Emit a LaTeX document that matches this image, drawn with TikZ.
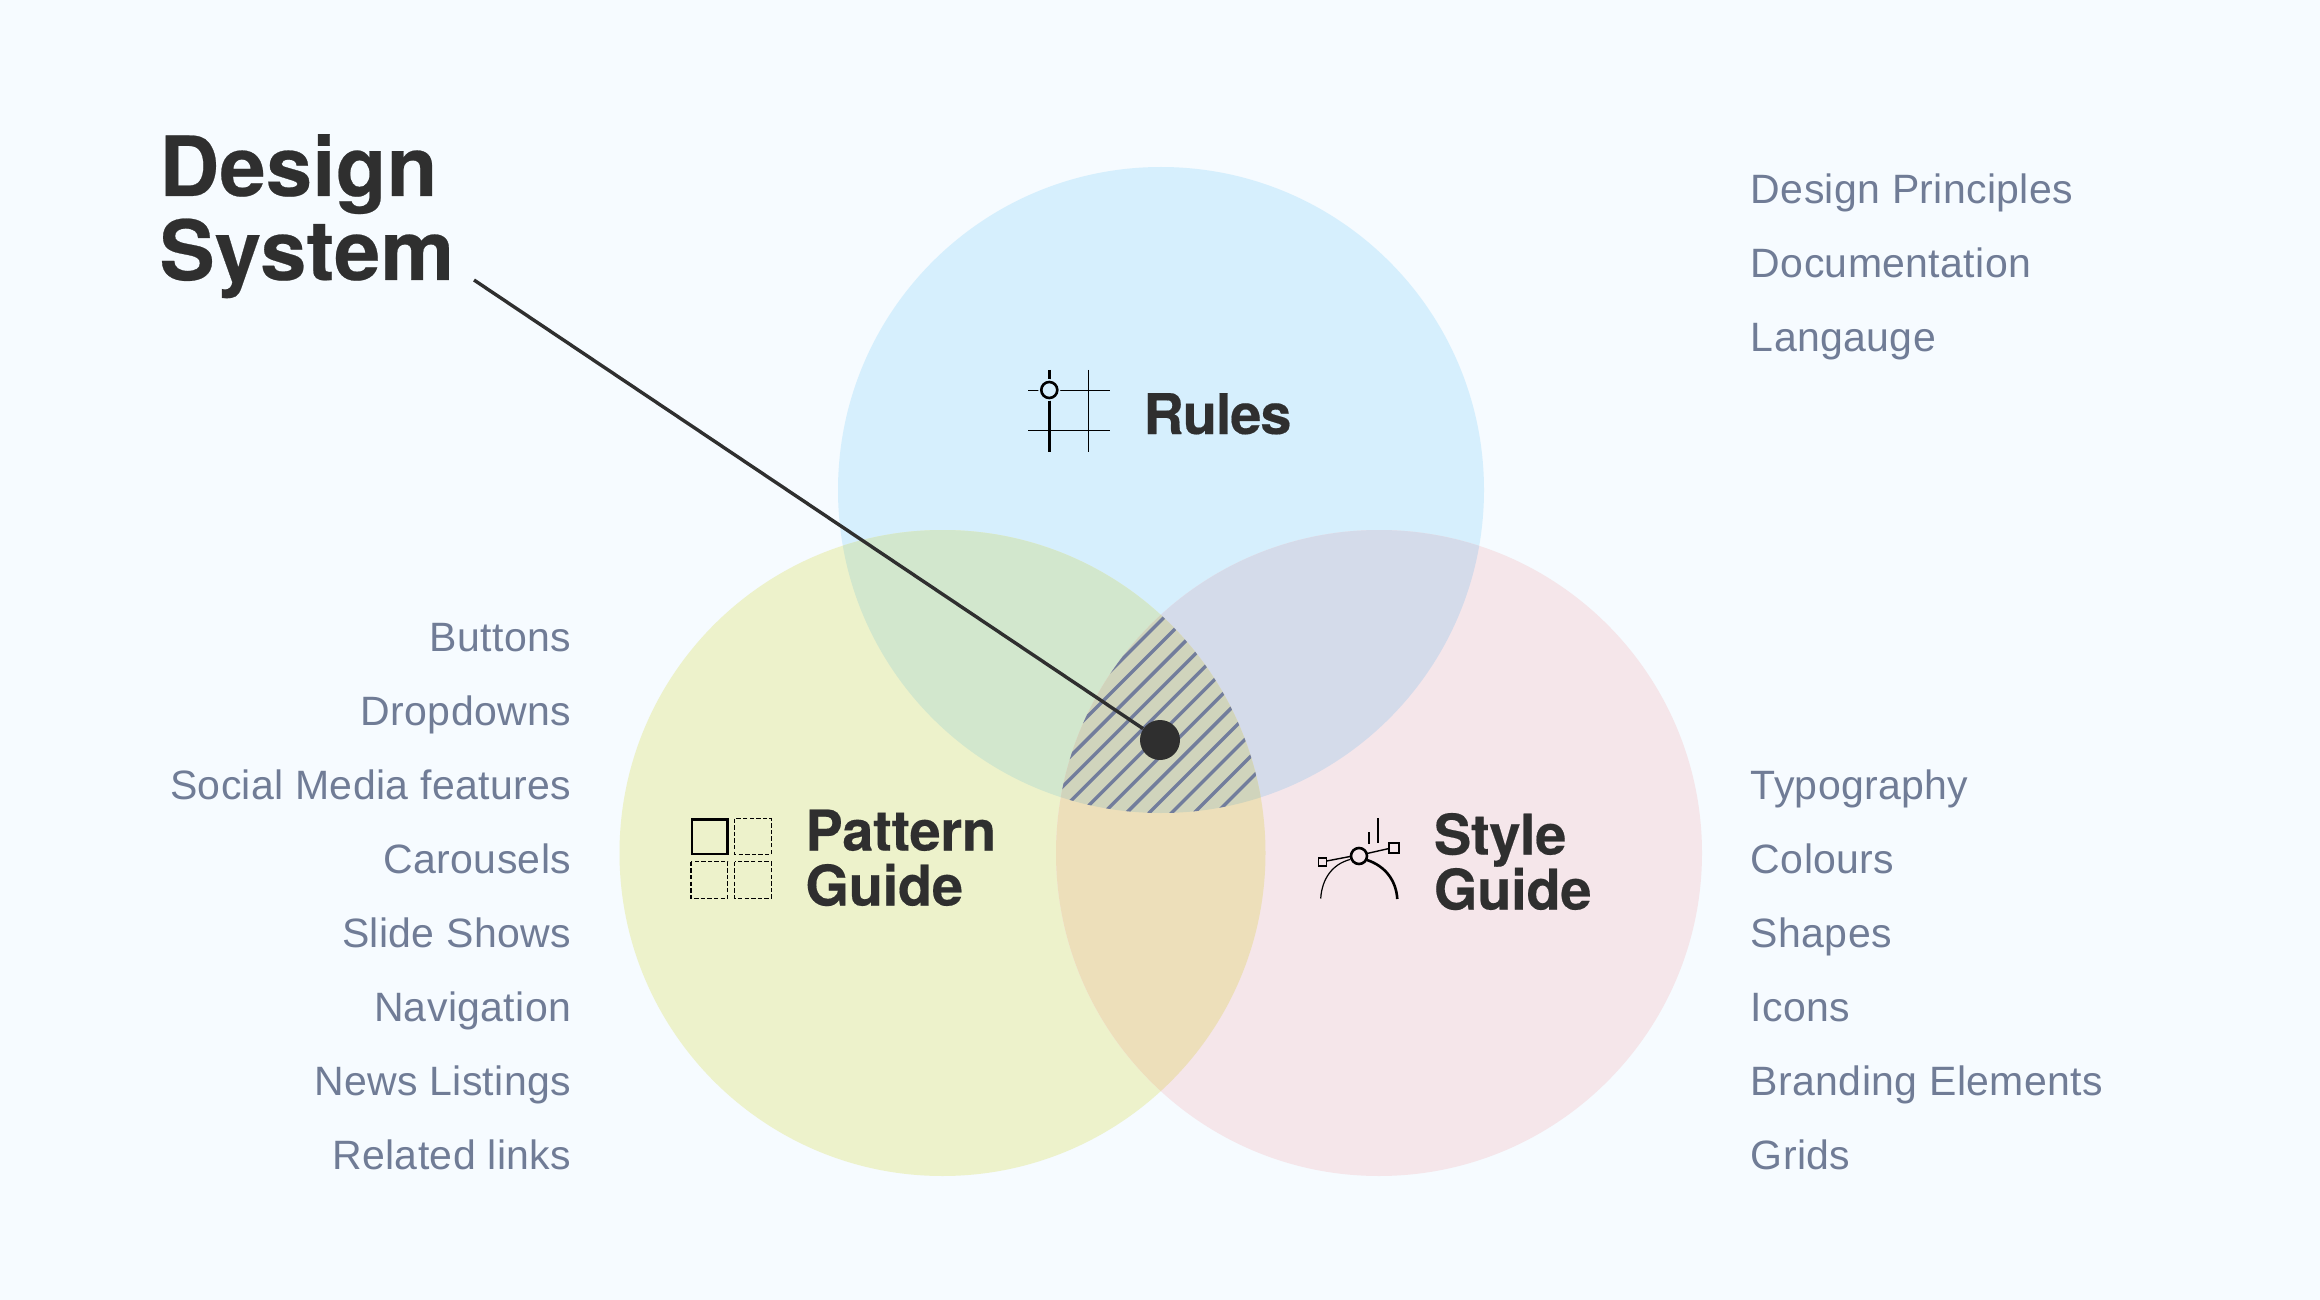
\documentclass[tikz,border=0pt]{standalone}
\usepackage{fontspec}
\setmainfont[LetterSpace=0.9]{Liberation Sans}
\newfontfamily\headfont[LetterSpace=-0.5,FakeBold=0.3]{TeX Gyre Heros Bold}
\newfontfamily\rulesfont[LetterSpace=-2,FakeBold=0.3]{TeX Gyre Heros Bold}
\newfontfamily\titlefont[LetterSpace=0.3,FakeBold=0.3]{TeX Gyre Heros Bold}
\definecolor{bgc}{HTML}{F6FBFF}
\definecolor{ruleC}{HTML}{D6EFFD}
\definecolor{patC}{HTML}{EDF2CB}
\definecolor{styC}{HTML}{F5E6EA}
\definecolor{rpC}{HTML}{D2E7CD}
\definecolor{rsC}{HTML}{D4DBEA}
\definecolor{psC}{HTML}{EDDFBA}
\definecolor{allC}{HTML}{D0D4BC}
\definecolor{hatchC}{HTML}{727D9C}
\definecolor{inkC}{HTML}{2F2F2F}
\definecolor{listC}{HTML}{707C96}
\tikzset{
  x=0.5pt,y=-0.5pt,
  listitem/.style={inner sep=0pt,text=listC,font=\fontsize{20.5}{24}\selectfont},
  listL/.style={listitem,anchor=base east},
  listR/.style={listitem,anchor=base west},
  head/.style={inner sep=0pt,text=inkC,align=left,anchor=base west,font=\headfont\fontsize{28}{27.5}\selectfont},
  bigT/.style={inner sep=0pt,text=inkC,align=left,anchor=base west,font=\titlefont\fontsize{41.5}{42}\selectfont},
  ic/.style={line cap=butt,draw=black},
}
\def\Rc{(1161,490) circle[radius=323]}
\def\Pc{(942.5,853) circle[radius=323]}
\def\Sc{(1379,853) circle[radius=323]}
\begin{document}
\begin{tikzpicture}
\useasboundingbox (0,0) rectangle (2320,1300);
\fill[bgc] (0,0) rectangle (2320,1300);
% circles
\fill[ruleC] \Rc; \fill[patC] \Pc; \fill[styC] \Sc;
\begin{scope}\clip \Rc; \fill[rpC] \Pc; \fill[rsC] \Sc; \end{scope}
\begin{scope}\clip \Pc; \fill[psC] \Sc; \end{scope}
\begin{scope}\clip \Rc; \clip \Pc; \clip \Sc;
  \fill[allC] (1000,500) rectangle (1320,850);
  \foreach \k in {0,...,11}{
    \pgfmathsetmacro{\s}{1781.5+22.55*\k}
    \draw[hatchC,line width=1.7pt] ({\s-1000},1000) -- ({\s-500},500);
  }
\end{scope}
% leader
\node[circle,fill=inkC,minimum size=20pt,inner sep=0pt] (dot) at (1160,740) {};
\coordinate (leadstart) at (474,280);
\draw[inkC,line width=1.7pt] (leadstart) -- (dot);
% titles
\node[bigT] (title) at (159,280) {Design\\System};
\node[head,font=\rulesfont\fontsize{28}{27.5}\selectfont] (rules) at (1143,434) {Rules};
\node[head] (pattern) at (805,905.5) {Pattern\\Guide};
\node[head] (style) at (1433.5,909.5) {Style\\Guide};
% rules icon
\draw[ic,line width=0.5pt] (1028,390.3) -- (1110,390.3);
\draw[ic,line width=0.6pt] (1028,430.7) -- (1110,430.7);
\draw[ic,line width=0.6pt] (1088.3,370) -- (1088.3,451.5);
\draw[ic,line width=1.3pt] (1049.3,370) -- (1049.3,452);
\fill[ruleC] (1049.3,390) circle[radius=11];
\draw[ic,fill=ruleC,line width=1.3pt] (1049.3,390) circle[radius=8];
% pattern icon
\draw[ic,line width=1.3pt] (691.9,819.2) rectangle (727.5,853.8);
\begin{scope}[ic,line width=0.6pt,dash pattern=on 2.2pt off 1.1pt]
\draw (734.8,818.5) rectangle (771.3,854.3);
\draw (691,861.8) rectangle (727.8,898.3);
\draw (734.8,861.8) rectangle (771.3,898.3);
\end{scope}
% style icon
\draw[ic,line width=0.6pt] (1320.7,898.5) .. controls (1322,878) and (1333,864) .. (1350,859.5);
\draw[ic,line width=1.3pt] (1367,860) .. controls (1385,866) and (1396,880) .. (1397.3,899);
\draw[ic,line width=0.7pt] (1326.7,861) -- (1350,856.5);
\draw[ic,line width=0.7pt] (1367,853.5) -- (1389,848.5);
\draw[ic,line width=1.2pt] (1378,818.3) -- (1378,842.7);
\draw[ic,line width=0.6pt] (1369,832.3) -- (1369,844);
\draw[ic,line width=1.3pt,fill=styC] (1359,856) circle[radius=8];
\draw[ic,line width=0.6pt] (1318.7,858) rectangle (1326.7,866);
\draw[ic,line width=1.2pt] (1389,843) rectangle (1399,853);
% lists
\foreach \n/\t/\y in {a/Design Principles/203.5,b/Documentation/277.5,c/Langauge/351.5}
  \node[listR] (top\n) at (1750.5,\y) {\t};
\foreach \n/\t/\y in {a/Buttons/651.5,b/Dropdowns/725.5,c/Social Media features/799.5,d/Carousels/873.5,e/Slide Shows/947.5,f/Navigation/1021.5,g/News Listings/1095.5,h/Related links/1169.5}
  \node[listL] (left\n) at (571.5,\y) {\t};
\foreach \n/\t/\y in {a/Typography/799.5,b/Colours/873.5,c/Shapes/947.5,d/Icons/1021.5,e/Branding Elements/1095.5,f/Grids/1169.5}
  \node[listR] (right\n) at (1750.5,\y) {\t};
\end{tikzpicture}
\end{document}
